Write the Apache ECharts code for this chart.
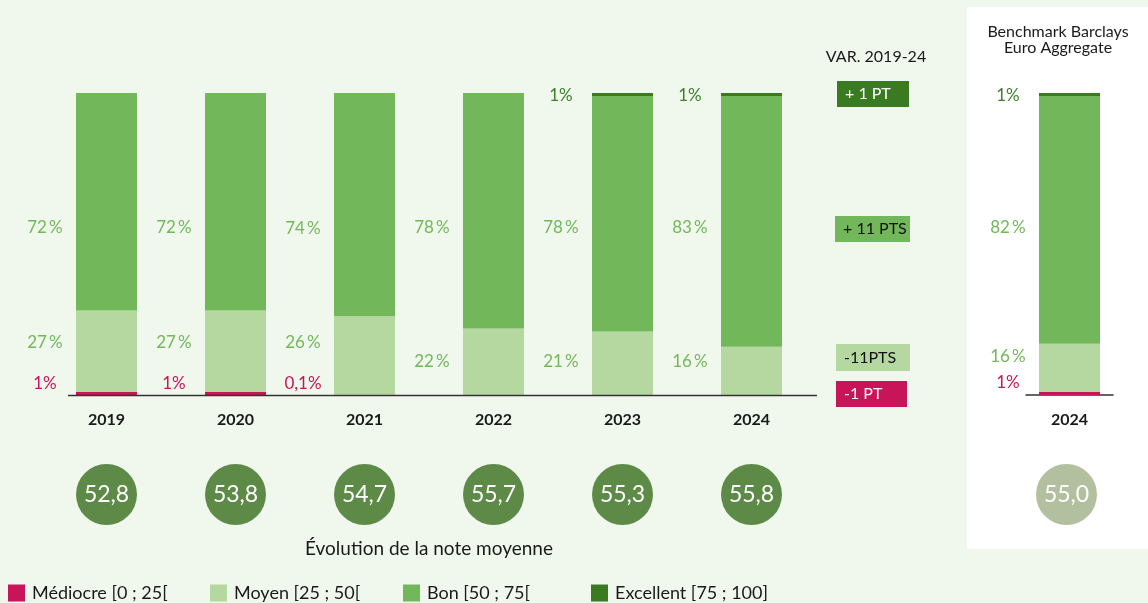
<!DOCTYPE html>
<html>
<head>
<meta charset="utf-8">
<script src="https://cdn.jsdelivr.net/npm/echarts@6/dist/echarts.min.js"></script>
<style>
html,body{margin:0;padding:0;background:#f0f7ed;}
#c{width:1148px;height:603px;}
</style>
</head>
<body>
<div id="c"></div>
<script>
// ---------- DATA ----------
const categories = ['2019', '2020', '2021', '2022', '2023', '2024'];
const mediocre  = [1, 1, 0.1, 0, 0, 0];
const moyen     = [27, 27, 26, 22, 21, 16];
const bon       = [72, 72, 74, 78, 78, 83];
const excellent = [0, 0, 0, 0, 1, 1];
const notes     = [52.8, 53.8, 54.7, 55.7, 55.3, 55.8];

const benchCategory  = ['2024'];
const benchMediocre  = [1];
const benchMoyen     = [16];
const benchBon       = [82];
const benchExcellent = [1];
const benchNote      = [55.0];

const seriesNames = ['Médiocre [0 ; 25[', 'Moyen [25 ; 50[', 'Bon [50 ; 75[', 'Excellent [75 ; 100]'];
const varTitle = 'VAR. 2019-24';
const varLabels = ['+ 1 PT', '+ 11 PTS', '-11PTS', '-1 PT'];
const benchTitle = 'Benchmark Barclays\nEuro Aggregate';
const notesTitle = 'Évolution de la note moyenne';

// ---------- LAYOUT / STYLE ----------
const FONT = 'Lato, "Open Sans", sans-serif';
const C_MED = '#c8155a', C_MOY = '#b5d8a0', C_BON = '#72b85a', C_EXC = '#3a7b22';
const C_LBL = '#72b85a', C_LBL_EXC = '#3f7f2a';
const C_NOTE = '#5e8a48', C_BENCH_NOTE = '#b3c0a0';
const PLOT_TOP = 93, PLOT_H = 302;
const py = v => PLOT_TOP + PLOT_H * (1 - v / 100);

// target label rows (pixel y) per series
const labelRows = {
  main: {
    med: [384, 384, 384, 384, 384, 384],
    moy: [343, 343, 343, 362, 362, 362],
    bon: [228, 228, 228, 228, 228, 228],
    exc: [96, 96, 96, 96, 96, 96]
  },
  bench: { med: [383], moy: [357], bon: [228], exc: [96] }
};

function fmtPct(v) {
  const s = String(v).replace('.', ',');
  return v >= 10 ? s + '\u2009%' : s + '%';
}

function buildStack(stackName, xi, yi, arrays, rows) {
  const colors = [C_MED, C_MOY, C_BON, C_EXC];
  const lblColors = [C_MED, C_LBL, C_LBL, C_LBL_EXC];
  const keys = ['med', 'moy', 'bon', 'exc'];
  return arrays.map((vals, k) => ({
    name: seriesNames[k],
    type: 'bar',
    stack: stackName,
    xAxisIndex: xi,
    yAxisIndex: yi,
    barWidth: 61,
    itemStyle: { color: colors[k] },
    label: {
      show: true,
      position: 'left',
      distance: 31,
      align: 'center',
      verticalAlign: 'middle',
      fontFamily: FONT,
      fontSize: 17,
      color: lblColors[k],
      formatter: p => fmtPct(p.value)
    },
    data: vals.map((v, i) => {
      let base = 0;
      for (let j = 0; j < k; j++) base += arrays[j][i];
      const dy = rows[keys[k]][i] - py(base + v / 2);
      return { value: v, label: { show: v > 0, offset: [0, dy] } };
    })
  }));
}

const mainSeries = buildStack('main', 0, 0, [mediocre, moyen, bon, excellent], labelRows.main);
const benchSeries = buildStack('bench', 1, 1, [benchMediocre, benchMoyen, benchBon, benchExcellent], labelRows.bench);

const noteLabel = {
  show: true, position: 'inside', color: '#fff', fontFamily: FONT, fontSize: 23,
  formatter: p => p.value[2].toFixed(1).replace('.', ',')
};

const legendLefts = [8, 210, 403, 591];

function box(x, y, w, h, fill, text, tcolor) {
  return [
    { type: 'rect', shape: { x, y, width: w, height: h }, style: { fill }, z: 5 },
    { type: 'text', x: x + 8, y: y + h / 2, z: 6,
      style: { text, fill: tcolor, font: '16px ' + FONT, verticalAlign: 'middle', align: 'left' } }
  ];
}

const option = {
  backgroundColor: '#f0f7ed',
  animation: false,
  grid: [
    { left: 42, width: 774, top: PLOT_TOP, height: PLOT_H },
    { left: 1026, width: 87, top: PLOT_TOP, height: PLOT_H },
    { left: 42, width: 774, top: 464, height: 61 },
    { left: 1023, width: 87, top: 464, height: 61 }
  ],
  xAxis: [
    { gridIndex: 0, type: 'category', data: categories, axisTick: { show: false },
      axisLine: { show: false },
      axisLabel: { margin: 17, color: '#1a1a1a', fontFamily: FONT, fontSize: 16, fontWeight: 'bold' } },
    { gridIndex: 1, type: 'category', data: benchCategory, axisTick: { show: false },
      axisLine: { show: true, lineStyle: { color: '#333', width: 1.5 } },
      axisLabel: { margin: 17, color: '#1a1a1a', fontFamily: FONT, fontSize: 16, fontWeight: 'bold' } },
    { gridIndex: 2, type: 'category', data: categories, show: false },
    { gridIndex: 3, type: 'category', data: benchCategory, show: false }
  ],
  yAxis: [
    { gridIndex: 0, type: 'value', min: 0, max: 100, show: false },
    { gridIndex: 1, type: 'value', min: 0, max: 100, show: false },
    { gridIndex: 2, type: 'value', min: -1, max: 1, show: false },
    { gridIndex: 3, type: 'value', min: -1, max: 1, show: false }
  ],
  legend: legendLefts.map((l, k) => ({
    left: l, top: 584, padding: 0, data: [seriesNames[k]], icon: 'rect',
    itemWidth: 17, itemHeight: 17, selectedMode: false,
    textStyle: { color: '#1a1a1a', fontFamily: FONT, fontSize: 18, padding: [0, 0, 0, 2] }
  })),
  series: [
    ...mainSeries,
    ...benchSeries,
    { type: 'scatter', xAxisIndex: 2, yAxisIndex: 2, symbolSize: 61, z: 3,
      itemStyle: { color: C_NOTE, opacity: 1 }, label: noteLabel,
      data: notes.map((n, i) => [i, 0, n]) },
    { type: 'scatter', xAxisIndex: 3, yAxisIndex: 3, symbolSize: 61, z: 3,
      itemStyle: { color: C_BENCH_NOTE, opacity: 1 }, label: noteLabel,
      data: benchNote.map((n, i) => [i, 0, n]) }
  ],
  graphic: [
    { type: 'rect', z: -10, shape: { x: 967, y: 7, width: 181, height: 542 }, style: { fill: '#ffffff' } },
    { type: 'line', z: 4, shape: { x1: 68, y1: 395.5, x2: 817, y2: 395.5 }, style: { stroke: '#333', lineWidth: 1.5 } },
    { type: 'text', x: 876, y: 57, z: 6,
      style: { text: varTitle, fill: '#1a1a1a', font: '16px ' + FONT, align: 'center', verticalAlign: 'middle' } },
    ...box(837, 81, 72, 26, C_EXC, varLabels[0], '#ffffff'),
    ...box(835, 216, 75, 26, C_BON, varLabels[1], '#111111'),
    ...box(836, 344, 74, 27, C_MOY, varLabels[2], '#111111'),
    ...box(836, 381, 71, 26, C_MED, varLabels[3], '#ffffff'),
    { type: 'text', x: 1058, y: 40, z: 6,
      style: { text: benchTitle, fill: '#1a1a1a', font: '16px ' + FONT, lineHeight: 16, align: 'center', verticalAlign: 'middle' } },
    { type: 'text', x: 429, y: 549, z: 6,
      style: { text: notesTitle, fill: '#1a1a1a', font: '19px ' + FONT, align: 'center', verticalAlign: 'middle' } }
  ]
};

const chart = echarts.init(document.getElementById('c'), null, { renderer: 'canvas' });
chart.setOption(option);
</script>
</body>
</html>
